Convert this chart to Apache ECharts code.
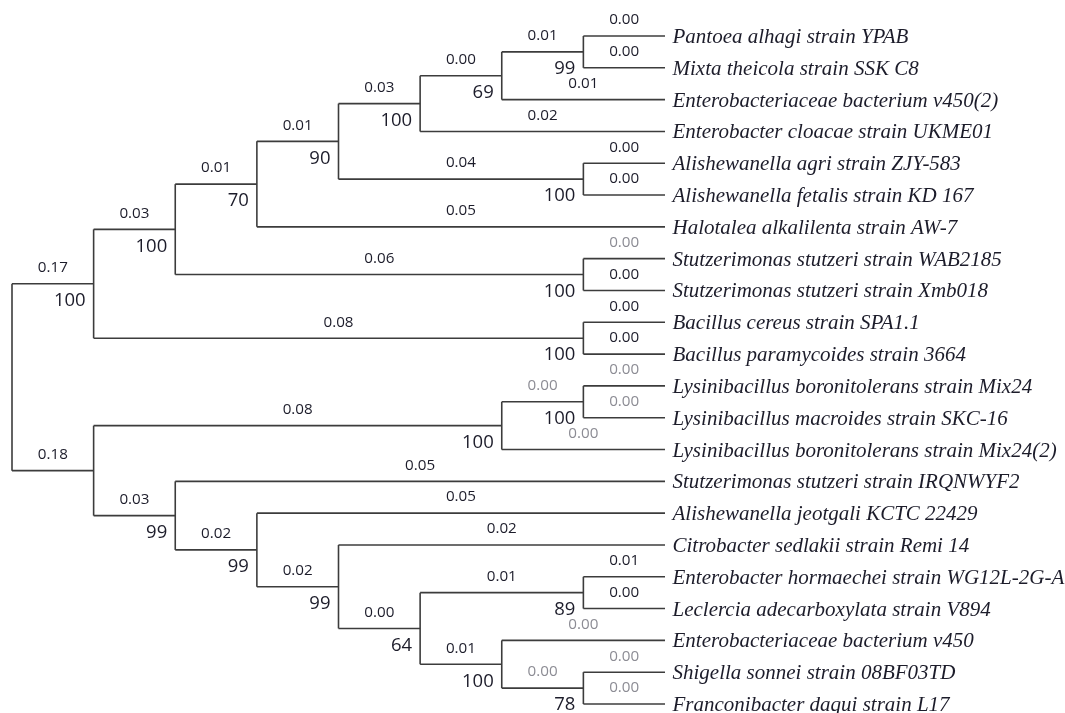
<!DOCTYPE html>
<html>
<head>
<meta charset="utf-8">
<script src="https://cdn.jsdelivr.net/npm/echarts@6.0.0/dist/echarts.min.js"></script>
<style>
  html, body { margin: 0; padding: 0; background: #ffffff; }
  #chart { width: 1065px; height: 713px; }
</style>
</head>
<body>
<div id="chart"></div>
<script>
// Taxa in the order they appear down the tree
const taxa = [
  'Pantoea alhagi strain YPAB',
  'Mixta theicola strain SSK C8',
  'Enterobacteriaceae bacterium v450(2)',
  'Enterobacter cloacae strain UKME01',
  'Alishewanella agri strain ZJY-583',
  'Alishewanella fetalis strain KD 167',
  'Halotalea alkalilenta strain AW-7',
  'Stutzerimonas stutzeri strain WAB2185',
  'Stutzerimonas stutzeri strain Xmb018',
  'Bacillus cereus strain SPA1.1',
  'Bacillus paramycoides strain 3664',
  'Lysinibacillus boronitolerans strain Mix24',
  'Lysinibacillus macroides strain SKC-16',
  'Lysinibacillus boronitolerans strain Mix24(2)',
  'Stutzerimonas stutzeri strain IRQNWYF2',
  'Alishewanella jeotgali KCTC 22429',
  'Citrobacter sedlakii strain Remi 14',
  'Enterobacter hormaechei strain WG12L-2G-A',
  'Leclercia adecarboxylata strain V894',
  'Enterobacteriaceae bacterium v450',
  'Shigella sonnei strain 08BF03TD',
  'Franconibacter daqui strain L17'
];
// Terminal branch lengths and whether the label is drawn muted
const taxonLength = ['0.00','0.00','0.01','0.02','0.00','0.00','0.05','0.00','0.00','0.00','0.00',
                     '0.00','0.00','0.00','0.05','0.05','0.02','0.01','0.00','0.00','0.00','0.00'];
const taxonMuted = [0,0,0,0,0,0,0,1,0,0,0,1,1,1,0,0,0,0,0,1,1,1];

// Internal nodes, each given as the span [first taxon, last taxon] it covers
const cladeSpan = [[0,21],[0,10],[0,8],[0,6],[0,5],[0,3],[0,2],[0,1],[4,5],[7,8],[9,10],
                   [11,21],[11,13],[11,12],[14,21],[15,21],[16,21],[17,21],[17,18],[19,21],[20,21]];
// Bootstrap support for each internal node
const cladeSupport = [null,100,100,70,90,100,69,99,100,100,100,null,100,100,99,99,99,64,89,100,78];
// Length of the branch leading to each internal node
const cladeLength = [null,'0.17','0.03','0.01','0.01','0.03','0.00','0.01','0.04','0.06','0.08',
                     '0.18','0.08','0.00','0.03','0.02','0.02','0.00','0.01','0.01','0.00'];
const cladeMuted = [0,0,0,0,0,0,0,0,0,0,0,0,0,1,0,0,0,0,0,0,1];

// ---- build the tree from the spans ----
const nodes = [];
taxa.forEach((name, i) => nodes.push({ kind: 0, idx: i, lo: i, hi: i, size: 1 }));
cladeSpan.forEach((s, j) => nodes.push({ kind: 1, idx: j, lo: s[0], hi: s[1], size: s[1] - s[0] + 1 }));

function parentOf(n) {
  let best = null;
  nodes.forEach(m => {
    if (m.kind !== 1 || m === n) return;
    if (m.lo <= n.lo && m.hi >= n.hi && m.size > n.size) {
      if (!best || m.size < best.size) best = m;
    }
  });
  return best;
}
nodes.forEach(n => { n.parent = parentOf(n); n.children = []; });
nodes.forEach(n => { if (n.parent) n.parent.children.push(n); });

function layout(n) {
  if (n.kind === 0) { n.h = 0; n.y = n.lo; return; }
  n.children.forEach(layout);
  n.children.sort((a, b) => a.y - b.y);
  n.h = 1 + Math.max(...n.children.map(c => c.h));
  n.y = (n.children[0].y + n.children[n.children.length - 1].y) / 2;
  n.top = n.children[0].y;
  n.bottom = n.children[n.children.length - 1].y;
}
const root = nodes.find(n => n.kind === 1 && n.parent === null);
layout(root);
const maxH = root.h;

// value layout: [height, y, parentHeight, vTop, vBottom, kind, index]
const seriesData = nodes.map(n => [
  n.h, n.y,
  n.parent ? n.parent.h : n.h,
  n.kind === 1 ? n.top : n.y,
  n.kind === 1 ? n.bottom : n.y,
  n.kind, n.idx
]);

const LINE = '#3c3c3c';
const INK = '#1c1c2a';
const MUTED = '#8c8c94';
const SANS = 'Tahoma, "Open Sans", "Liberation Sans", sans-serif';
const SERIF = '"Times New Roman", "Liberation Serif", serif';

function renderItem(params, api) {
  const h = api.value(0), y = api.value(1), ph = api.value(2);
  const kind = api.value(5), idx = api.value(6);
  const p = api.coord([h, y]);
  const pp = api.coord([ph, y]);
  const children = [];
  const isRoot = kind === 1 && cladeLength[idx] === null;

  if (!isRoot) {
    children.push({
      type: 'line',
      shape: { x1: pp[0], y1: p[1], x2: p[0], y2: p[1] },
      style: { stroke: LINE, lineWidth: 1.6 }
    });
    const len = kind === 0 ? taxonLength[idx] : cladeLength[idx];
    const muted = kind === 0 ? taxonMuted[idx] : cladeMuted[idx];
    children.push({
      type: 'text',
      style: {
        text: len, x: (pp[0] + p[0]) / 2, y: p[1] - 16,
        align: 'center', verticalAlign: 'middle',
        fontFamily: SANS, fontSize: 15.2, fill: muted ? MUTED : INK
      }
    });
  }
  if (kind === 1) {
    const t = api.coord([h, api.value(3)]);
    const b = api.coord([h, api.value(4)]);
    children.push({
      type: 'line',
      shape: { x1: p[0], y1: t[1], x2: p[0], y2: b[1] },
      style: { stroke: LINE, lineWidth: 1.6 }
    });
    if (cladeSupport[idx] !== null) {
      children.push({
        type: 'text',
        style: {
          text: String(cladeSupport[idx]), x: p[0] - 8, y: p[1] + 17,
          align: 'right', verticalAlign: 'middle',
          fontFamily: SANS, fontSize: 18.5, fill: INK
        }
      });
    }
  } else {
    children.push({
      type: 'text',
      style: {
        text: taxa[idx], x: p[0] + 7.5, y: p[1] + 1.5,
        align: 'left', verticalAlign: 'middle',
        fontFamily: SERIF, fontStyle: 'italic', fontSize: 21, fill: INK
      }
    });
  }
  return { type: 'group', children };
}

const chart = echarts.init(document.getElementById('chart'), null, { renderer: 'canvas' });
chart.setOption({
  backgroundColor: '#ffffff',
  animation: false,
  grid: { left: 12, right: 400, top: 36, bottom: 9 },
  xAxis: { type: 'value', min: 0, max: maxH, inverse: true, show: false },
  yAxis: { type: 'value', min: 0, max: taxa.length - 1, inverse: true, show: false },
  series: [{
    type: 'custom',
    coordinateSystem: 'cartesian2d',
    clip: false,
    silent: true,
    encode: { x: 0, y: 1 },
    data: seriesData,
    renderItem
  }]
});
</script>
</body>
</html>
